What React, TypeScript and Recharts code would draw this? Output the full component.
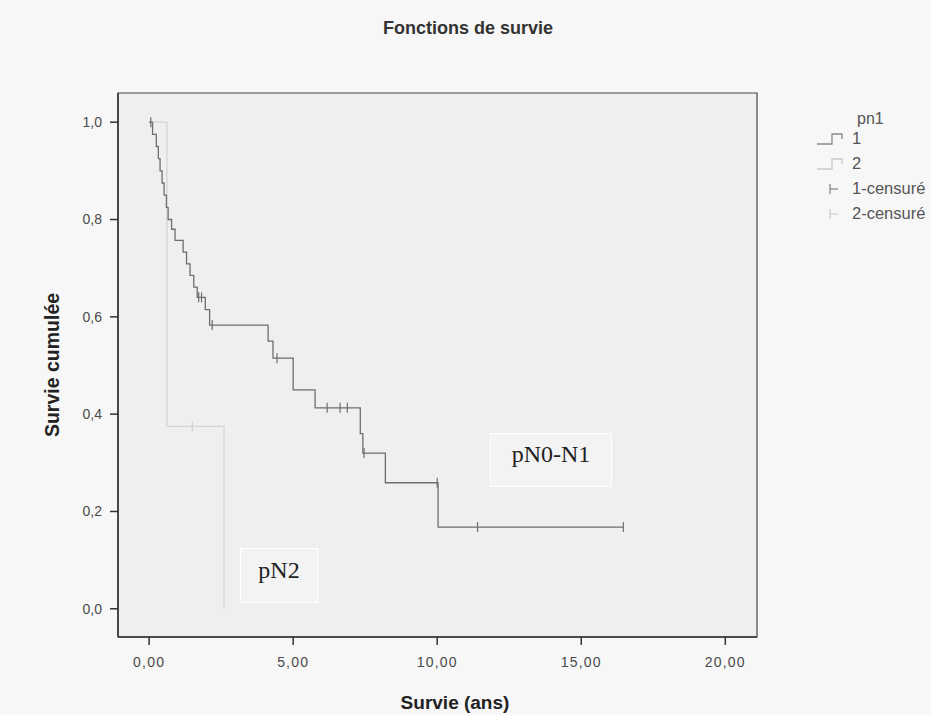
import React from 'react';
import {
  ComposedChart, Line, Scatter, XAxis, YAxis, ReferenceArea
} from 'recharts';

// pN0-N1 (groupe 1) : temps (ans) et survie cumulée
const timesN01 = [0, 0.12, 0.25, 0.32, 0.38, 0.45, 0.52, 0.6, 0.66, 0.78, 0.9, 1.18, 1.3, 1.42, 1.55, 1.67, 1.95, 2.1, 4.13, 4.3, 5.0, 5.76, 7.33, 7.42, 8.2, 10.03, 16.46];
const survN01 = [1.0, 0.975, 0.95, 0.925, 0.9, 0.875, 0.85, 0.825, 0.8, 0.78, 0.757, 0.733, 0.709, 0.685, 0.661, 0.64, 0.615, 0.583, 0.55, 0.515, 0.45, 0.413, 0.36, 0.32, 0.259, 0.168, 0.168];
const censTimesN01 = [0.06, 1.72, 1.82, 2.19, 4.44, 6.18, 6.63, 6.88, 7.46, 10.0, 11.4, 16.46];
const censSurvN01 = [1.0, 0.64, 0.64, 0.583, 0.515, 0.413, 0.413, 0.413, 0.32, 0.259, 0.168, 0.168];

// pN2 (groupe 2)
const timesN2 = [0, 0.62, 2.6];
const survN2 = [1.0, 0.375, 0.0];
const censTimesN2 = [1.5];
const censSurvN2 = [0.375];

const xTicks = [0, 5, 10, 15, 20];
const yTicks = [0, 0.2, 0.4, 0.6, 0.8, 1.0];
const legendItems = ['1', '2', '1-censuré', '2-censuré'];

const zip = (t: number[], s: number[]) => t.map((v, i) => ({ t: v, s: s[i] }));
const curve1 = zip(timesN01, survN01);
const curve2 = zip(timesN2, survN2);
const cens1 = zip(censTimesN01, censSurvN01);
const cens2 = zip(censTimesN2, censSurvN2);

const X_DOMAIN: [number, number] = [-1.08, 21.1];
const Y_DOMAIN: [number, number] = [-0.058, 1.06];

const censorShape = (color: string) => (props: any) => {
  const { cx, cy } = props;
  return <line x1={cx} x2={cx} y1={cy - 5} y2={cy + 5} stroke={color} strokeWidth={1.2} />;
};

const fmtY = (v: number) => v.toFixed(1).replace('.', ',');
const fmtX = (v: number) => v.toFixed(2).replace('.', ',');

const font = 'Liberation Sans, Arial, sans-serif';
const yTickStyle = { fill: '#4a4a4a', fontSize: 14, fontFamily: font };
const xTickStyle = { fill: '#4a4a4a', fontSize: 14, fontFamily: font, letterSpacing: 1.2 };

function LegendIcon({ kind }: { kind: number }) {
  if (kind === 0 || kind === 1) {
    const c = kind === 0 ? '#8a8a8a' : '#cacaca';
    return (
      <svg width={36} height={16} style={{ display: 'block' }}>
        <polyline points="3,13 18,13 18,3 28,3 28,8" fill="none" stroke={c} strokeWidth={1.3} />
      </svg>
    );
  }
  const c = kind === 2 ? '#8a8a8a' : '#d2d2d2';
  return (
    <svg width={36} height={16} style={{ display: 'block' }}>
      <line x1={16} x2={16} y1={3} y2={13} stroke={c} strokeWidth={1.3} />
      <line x1={16} x2={24} y1={8} y2={8} stroke={c} strokeWidth={1.3} />
    </svg>
  );
}

export default function App() {
  return (
    <div style={{ position: 'absolute', left: 0, top: 0, width: 931, height: 715, background: '#f7f7f7', overflow: 'hidden', fontFamily: font }}>
      <div style={{ position: 'absolute', left: 0, width: 936, top: 18, textAlign: 'center', fontWeight: 'bold', fontSize: 18, color: '#333' }}>
        Fonctions de survie
      </div>

      <ComposedChart width={931} height={715} margin={{ top: 93, right: 174, bottom: 0, left: 0 }}>
        <XAxis
          type="number"
          dataKey="t"
          domain={X_DOMAIN}
          ticks={xTicks}
          tickFormatter={fmtX}
          tick={xTickStyle}
          tickSize={8}
          tickMargin={12}
          height={78}
          axisLine={{ stroke: '#333', strokeWidth: 1.5 }}
          tickLine={{ stroke: '#333', strokeWidth: 1.5 }}
          allowDataOverflow
        />
        <YAxis
          type="number"
          dataKey="s"
          domain={Y_DOMAIN}
          ticks={yTicks}
          tickFormatter={fmtY}
          tick={yTickStyle}
          tickSize={8}
          tickMargin={8}
          width={118}
          axisLine={{ stroke: '#333', strokeWidth: 1.5 }}
          tickLine={{ stroke: '#333', strokeWidth: 1.5 }}
          allowDataOverflow
        />
        <ReferenceArea x1={X_DOMAIN[0]} x2={X_DOMAIN[1]} y1={Y_DOMAIN[0]} y2={Y_DOMAIN[1]} fill="#efefef" fillOpacity={1} stroke="#444" strokeWidth={1.2} />
        <Line data={curve2} dataKey="s" type="stepAfter" stroke="#d4d4d4" strokeWidth={1.3} dot={false} isAnimationActive={false} />
        <Scatter data={cens2} dataKey="s" shape={censorShape('#d0d0d0')} isAnimationActive={false} />
        <Line data={curve1} dataKey="s" type="stepAfter" stroke="#6e6e6e" strokeWidth={1.3} dot={false} isAnimationActive={false} />
        <Scatter data={cens1} dataKey="s" shape={censorShape('#6e6e6e')} isAnimationActive={false} />
      </ComposedChart>

      <div style={{ position: 'absolute', left: 490, top: 433, width: 122, height: 54, border: '1px solid #ffffff', background: '#f3f3f3', boxSizing: 'border-box', textAlign: 'center', fontFamily: 'Liberation Serif, Times New Roman, serif', fontSize: 24, color: '#222', paddingTop: 7 }}>
        pN0-N1
      </div>
      <div style={{ position: 'absolute', left: 240, top: 548, width: 78, height: 55, border: '1px solid #ffffff', background: '#f3f3f3', boxSizing: 'border-box', textAlign: 'center', fontFamily: 'Liberation Serif, Times New Roman, serif', fontSize: 24, color: '#222', paddingTop: 8 }}>
        pN2
      </div>

      <div style={{ position: 'absolute', left: 52, top: 365, width: 0, height: 0 }}>
        <div style={{ position: 'absolute', left: 0, top: 0, transform: 'translate(-50%, -50%) rotate(-90deg)', whiteSpace: 'nowrap', fontWeight: 'bold', fontSize: 19.5, color: '#222' }}>
          Survie cumulée
        </div>
      </div>
      <div style={{ position: 'absolute', left: 0, width: 910, top: 692, textAlign: 'center', fontWeight: 'bold', fontSize: 19, color: '#222' }}>
        Survie (ans)
      </div>

      <div style={{ position: 'absolute', left: 857, top: 110, fontSize: 16, color: '#555' }}>pn1</div>
      {legendItems.map((name, i) => (
        <div key={name} style={{ position: 'absolute', left: 814, top: 129 + i * 25, display: 'flex', alignItems: 'center', fontSize: 16.5, color: '#555', whiteSpace: 'nowrap' }}>
          <LegendIcon kind={i} />
          <span style={{ marginLeft: 2 }}>{name}</span>
        </div>
      ))}
    </div>
  );
}
